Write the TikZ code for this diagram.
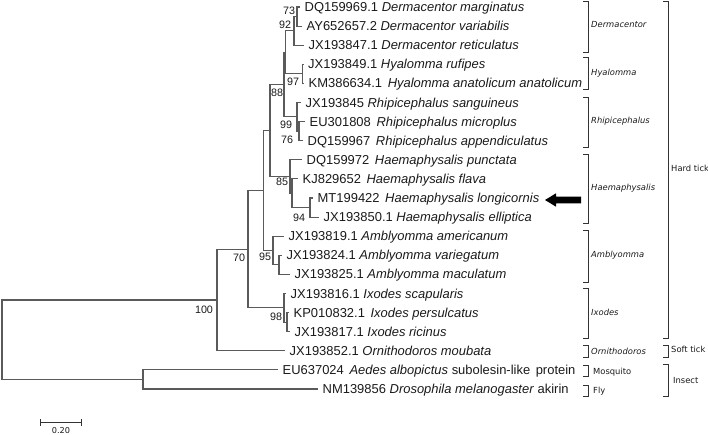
\documentclass[tikz,border=0pt]{standalone}
\usepackage{fontspec}
\setmainfont{Liberation Sans}
\newfontfamily\cladefont{DejaVu Sans}
\definecolor{treegray}{HTML}{5A5A5A}
\definecolor{txt}{HTML}{1A1A1A}
\definecolor{brk}{HTML}{333333}
\newcommand{\gapw}{\ \hspace{2bp}}
\begin{document}
\begin{tikzpicture}[x=1bp,y=-1bp,
  br/.style={draw=treegray, line width=1.1bp},
  bracketline/.style={draw=brk, line width=0.9bp},
  leaf/.style={anchor=base west, inner sep=0pt, text=txt, font=\fontsize{13}{15}\selectfont},
  boot/.style={anchor=center, inner sep=0pt, text=txt, font=\fontsize{10.8}{12}\selectfont},
  clade/.style={anchor=base west, inner sep=0pt, text=txt, font=\cladefont\fontsize{8.4}{10}\selectfont},
  scalelbl/.style={anchor=center, inner sep=0pt, text=txt, font=\cladefont\fontsize{8.2}{10}\selectfont}]
\useasboundingbox (0,0) rectangle (708,435);

% ---- leaf tips ----
\coordinate (l1) at (300,7);
\coordinate (l2) at (302,26.1);
\coordinate (l3) at (304,45.2);
\coordinate (l4) at (303.5,64.3);
\coordinate (l5) at (304,83.4);
\coordinate (l6) at (301,102.5);
\coordinate (l7) at (305,121.6);
\coordinate (l8) at (303,140.7);
\coordinate (l9) at (302,159.8);
\coordinate (l10) at (298,178.9);
\coordinate (l11) at (313,198);
\coordinate (l12) at (319,217.1);
\coordinate (l13) at (284,236.2);
\coordinate (l14) at (282,255.3);
\coordinate (l15) at (290,274.4);
\coordinate (l16) at (286,293.5);
\coordinate (l17) at (289,312.6);
\coordinate (l18) at (290,331.7);
\coordinate (l19) at (285,350.8);
\coordinate (l20) at (278,369.9);
\coordinate (l21) at (318,389);

% ---- leaf labels ----
\node[leaf] (t1) at ([xshift=4.5bp,yshift=-4.6bp]l1) {DQ159969.1 \textit{Dermacentor marginatus}};
\node[leaf] (t2) at ([xshift=4.5bp,yshift=-4.6bp]l2) {AY652657.2 \textit{Dermacentor variabilis}};
\node[leaf] (t3) at ([xshift=4.5bp,yshift=-4.6bp]l3) {JX193847.1 \textit{Dermacentor reticulatus}};
\node[leaf] (t4) at ([xshift=4.5bp,yshift=-4.6bp]l4) {JX193849.1 \textit{Hyalomma rufipes}};
\node[leaf] (t5) at ([xshift=4.5bp,yshift=-4.6bp]l5) {KM386634.1\gapw\textit{Hyalomma anatolicum anatolicum}};
\node[leaf] (t6) at ([xshift=4.5bp,yshift=-4.6bp]l6) {JX193845 \textit{Rhipicephalus sanguineus}};
\node[leaf] (t7) at ([xshift=4.5bp,yshift=-4.6bp]l7) {EU301808\gapw\textit{Rhipicephalus microplus}};
\node[leaf] (t8) at ([xshift=4.5bp,yshift=-4.6bp]l8) {DQ159967\gapw\textit{Rhipicephalus appendiculatus}};
\node[leaf] (t9) at ([xshift=4.5bp,yshift=-4.6bp]l9) {DQ159972\gapw\textit{Haemaphysalis punctata}};
\node[leaf] (t10) at ([xshift=4.5bp,yshift=-4.6bp]l10) {KJ829652\gapw\textit{Haemaphysalis flava}};
\node[leaf] (t11) at ([xshift=4.5bp,yshift=-4.6bp]l11) {MT199422\gapw\textit{Haemaphysalis longicornis}};
\node[leaf] (t12) at ([xshift=4.5bp,yshift=-4.6bp]l12) {JX193850.1 \textit{Haemaphysalis elliptica}};
\node[leaf] (t13) at ([xshift=4.5bp,yshift=-4.6bp]l13) {JX193819.1 \textit{Amblyomma americanum}};
\node[leaf] (t14) at ([xshift=4.5bp,yshift=-4.6bp]l14) {JX193824.1 \textit{Amblyomma variegatum}};
\node[leaf] (t15) at ([xshift=4.5bp,yshift=-4.6bp]l15) {JX193825.1 \textit{Amblyomma maculatum}};
\node[leaf] (t16) at ([xshift=4.5bp,yshift=-4.6bp]l16) {JX193816.1 \textit{Ixodes scapularis}};
\node[leaf] (t17) at ([xshift=4.5bp,yshift=-4.6bp]l17) {KP010832.1\gapw\textit{Ixodes persulcatus}};
\node[leaf] (t18) at ([xshift=4.5bp,yshift=-4.6bp]l18) {JX193817.1 \textit{Ixodes ricinus}};
\node[leaf] (t19) at ([xshift=4.5bp,yshift=-4.6bp]l19) {JX193852.1 \textit{Ornithodoros moubata}};
\node[leaf] (t20) at ([xshift=4.5bp,yshift=-4.6bp]l20) {EU637024\gapw\textit{Aedes albopictus} subolesin-like\gapw protein};
\node[leaf] (t21) at ([xshift=4.5bp,yshift=-4.6bp]l21) {NM139856 \textit{Drosophila melanogaster} akirin};

% ---- internal nodes ----
\coordinate (n73) at (297,16.55);
\coordinate (n92) at (294,30.9);
\coordinate (n97) at (302.7,73.85);
\coordinate (ndh) at (285.5,52.4);
\coordinate (n76) at (299,131.15);
\coordinate (n99) at (297,116.8);
\coordinate (n88) at (284,84.6);
\coordinate (n94) at (310,207.55);
\coordinate (nkj) at (292,193.2);
\coordinate (n85) at (290,176.5);
\coordinate (nhi) at (270,130.55);
\coordinate (nam) at (279,264.85);
\coordinate (n95) at (273,250.5);
\coordinate (nmid) at (263.5,190.5);
\coordinate (nix) at (287,322.15);
\coordinate (n98) at (284,307.8);
\coordinate (n70) at (248,249.2);
\coordinate (n100) at (217,300);
\coordinate (nins) at (143,379.45);
\coordinate (root) at (2,339.7);

% ---- branches ----
\draw[br] (n73) |- (l1); \draw[br] (n73) |- (l2);
\draw[br] (n92) |- (n73); \draw[br] (n92) |- (l3);
\draw[br] (n97) |- (l4); \draw[br] (n97) |- (l5);
\draw[br] (ndh) |- (n92); \draw[br] (ndh) |- (n97);
\draw[br] (n76) |- (l7); \draw[br] (n76) |- (l8);
\draw[br] (n99) |- (l6); \draw[br] (n99) |- (n76);
\draw[br] (n88) |- (ndh); \draw[br] (n88) |- (n99);
\draw[br] (n94) |- (l11); \draw[br] (n94) |- (l12);
\draw[br] (nkj) |- (l10); \draw[br] (nkj) |- (n94);
\draw[br] (n85) |- (l9); \draw[br] (n85) |- (nkj);
\draw[br] (nhi) |- (n88); \draw[br] (nhi) |- (n85);
\draw[br] (nam) |- (l14); \draw[br] (nam) |- (l15);
\draw[br] (n95) |- (l13); \draw[br] (n95) |- (nam);
\draw[br] (nmid) |- (nhi); \draw[br] (nmid) |- (n95);
\draw[br] (nix) |- (l17); \draw[br] (nix) |- (l18);
\draw[br] (n98) |- (l16); \draw[br] (n98) |- (nix);
\draw[br] (n70) |- (nmid); \draw[br] (n70) |- (n98);
\draw[br] (n100) |- (n70); \draw[br] (n100) |- (l19);
\draw[br] (nins) |- (l20); \draw[br] (nins) |- (l21);
\draw[br] (root) |- (n100); \draw[br] (root) |- (nins);

% ---- bootstrap values ----
\node[boot] (b73) at (289,10.5) {73};
\node[boot] (b92) at (285,25) {92};
\node[boot] (b97) at (293,82) {97};
\node[boot] (b88) at (277,93) {88};
\node[boot] (b99) at (286,125) {99};
\node[boot] (b76) at (287,140) {76};
\node[boot] (b85) at (282,182) {85};
\node[boot] (b94) at (299,218) {94};
\node[boot] (b95) at (265,257) {95};
\node[boot] (b70) at (239,258) {70};
\node[boot] (b98) at (276,317) {98};
\node[boot] (b100) at (204,310) {100};

% ---- arrow ----
\fill[black] (545,200) -- (556,193.3) -- (556,196.7) -- (581,196.7) -- (581,203.3) -- (556,203.3) -- (556,206.7) -- cycle;

% ---- genus brackets ----
\foreach \ya/\yb in {1/52, 57/89, 97/147, 154/223, 230/282, 288/338, 345/357, 365/376, 385/396}
  \draw[bracketline] (583,\ya) -- (588,\ya) -- (588,\yb) -- (583,\yb);
\node[clade] (cD) at (591,28) {\itshape Dermacentor};
\node[clade] (cH) at (591,76) {\itshape Hyalomma};
\node[clade] (cR) at (591,124) {\itshape Rhipicephalus};
\node[clade] (cHa) at (591,191) {\itshape Haemaphysalis};
\node[clade] (cA) at (591,258) {\itshape Amblyomma};
\node[clade] (cI) at (591,316) {\itshape Ixodes};
\node[clade] (cO) at (591,354) {\itshape Ornithodoros};
\node[clade] (cM) at (593,374) {Mosquito};
\node[clade] (cF) at (593,393) {Fly};

% ---- group brackets ----
\foreach \ya/\yb in {1/338, 345/357, 364/396}
  \draw[bracketline] (663,\ya) -- (668,\ya) -- (668,\yb) -- (663,\yb);
\node[clade] (gH) at (671,172) {Hard tick};
\node[clade] (gS) at (671,353) {Soft tick};
\node[clade] (gI) at (673,383) {Insect};

% ---- scale bar ----
\coordinate (s1) at (40,422);
\coordinate (s2) at (81,422);
\draw[draw=brk, line width=0.9bp] (s1) -- (s2);
\draw[draw=brk, line width=0.9bp] ([yshift=-3.5bp]s1) -- ([yshift=3.5bp]s1);
\draw[draw=brk, line width=0.9bp] ([yshift=-3.5bp]s2) -- ([yshift=3.5bp]s2);
\node[scalelbl] (sl) at (61,431) {0.20};
\end{tikzpicture}
\end{document}
